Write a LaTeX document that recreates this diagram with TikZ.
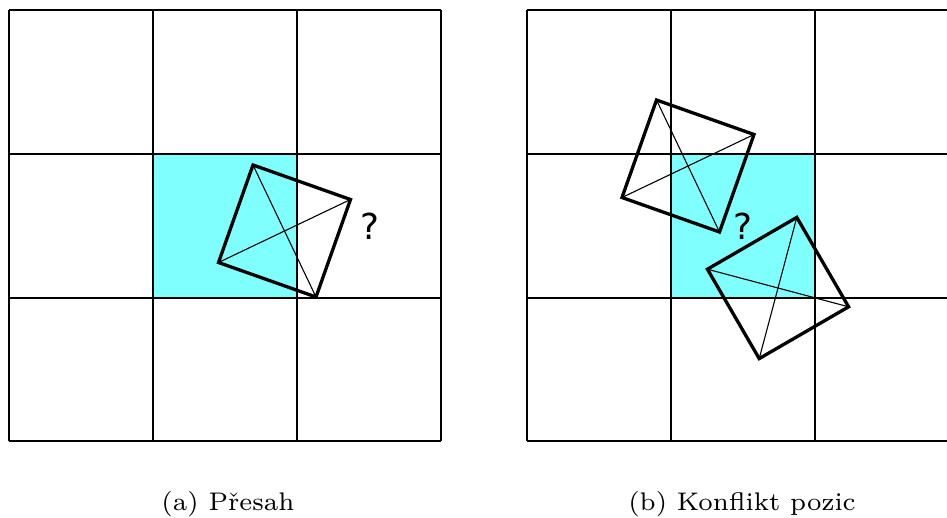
\documentclass[tikz,border=0pt]{standalone}
\usepackage{fontspec}
\usepackage{graphicx}
\usetikzlibrary{calc}
\newfontfamily\qfont{DejaVu Sans}
\definecolor{cellcyan}{RGB}{128,255,255}
\tikzset{
  gridline/.style={line width=1.4pt, black},
  sqline/.style={line width=3.3pt, line join=miter, black},
  diagline/.style={line width=1.1pt, black},
  qmark/.style={anchor=base, inner sep=0pt, font=\qfont\fontsize{35.7}{40}\selectfont},
  capt/.style={anchor=base, inner sep=0pt}
}
\begin{document}
\begin{tikzpicture}[x=1pt,y=-1pt]
\path[use as bounding box] (0,0) rectangle (947,517);
\clip (0,0) rectangle (947,517);
% cyan cells
\fill[cellcyan] (153,154) rectangle (297,298);
\fill[cellcyan] (671,154) rectangle (815,298);
% left grid
\foreach \x in {9,153,297,441} \draw[gridline] (\x,10) -- (\x,441);
\foreach \y in {10,154,298,441} \draw[gridline] (9,\y) -- (441,\y);
% right grid
\foreach \x in {527,671,815,959} \draw[gridline] (\x,10) -- (\x,441);
\foreach \y in {10,154,298,441} \draw[gridline] (527,\y) -- (959,\y);
% left square
\coordinate (LC) at (284.5,231);
\coordinate (LT) at ($(LC)+(-31.5,-66)$);
\coordinate (LR) at ($(LC)+(66,-31.5)$);
\coordinate (LB) at ($(LC)+(31.5,66)$);
\coordinate (LL) at ($(LC)+(-66,31.5)$);
\draw[diagline] (LT) -- (LB);
\draw[diagline] (LL) -- (LR);
\draw[sqline] (LT) -- (LR) -- (LB) -- (LL) -- cycle;
% right square 1
\coordinate (AC) at (688,166);
\coordinate (AT) at ($(AC)+(-31.5,-66)$);
\coordinate (AR) at ($(AC)+(66,-31.5)$);
\coordinate (AB) at ($(AC)+(31.5,66)$);
\coordinate (AL) at ($(AC)+(-66,31.5)$);
\draw[diagline] (AT) -- (AB);
\draw[diagline] (AL) -- (AR);
\draw[sqline] (AT) -- (AR) -- (AB) -- (AL) -- cycle;
% right square 2
\coordinate (BC) at (778,288);
\coordinate (BT) at ($(BC)+(18.8,-70.6)$);
\coordinate (BR) at ($(BC)+(70.6,18.8)$);
\coordinate (BB) at ($(BC)+(-18.8,70.6)$);
\coordinate (BL) at ($(BC)+(-70.6,-18.8)$);
\draw[diagline] (BT) -- (BB);
\draw[diagline] (BL) -- (BR);
\draw[sqline] (BT) -- (BR) -- (BB) -- (BL) -- cycle;
% question marks
\node[qmark] (q1) at (370,239) {?};
\node[qmark] (q2) at (743,239) {?};
% captions
\node[capt] (ca) at (228,510) {\scalebox{3.64}{\fontsize{7}{8}\selectfont (a) Přesah}};
\node[capt] (cb) at (742,510) {\scalebox{3.64}{\fontsize{7}{8}\selectfont (b) Konflikt pozic}};
\end{tikzpicture}
\end{document}
